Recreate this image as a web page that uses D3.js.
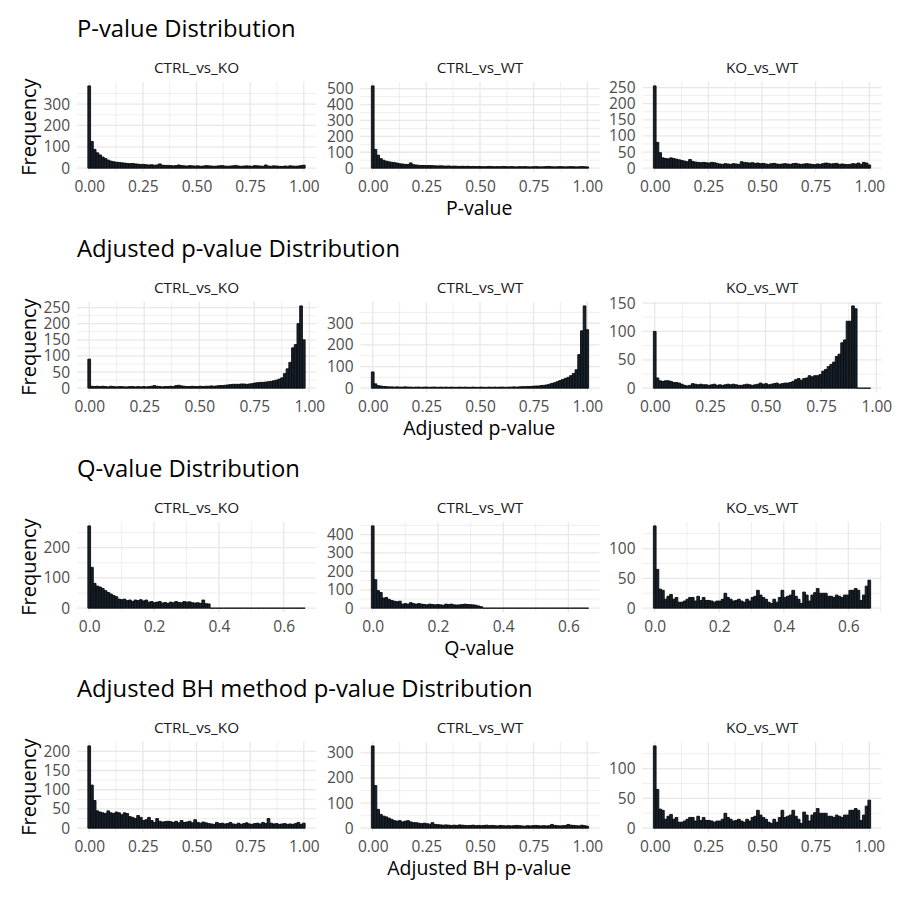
<!DOCTYPE html>
<html>
<head>
<meta charset="utf-8">
<style>
body { margin: 0; background: #fff; }
text { font-family: "Open Sans", sans-serif; }
</style>
</head>
<body>
<script src="https://d3js.org/d3.v7.min.js"></script>
<script>

var width = 900,
    height = 900;

var facets = ["CTRL_vs_KO", "CTRL_vs_WT", "KO_vs_WT"];
var rowTitles = ["P-value Distribution", "Adjusted p-value Distribution",
                 "Q-value Distribution", "Adjusted BH method p-value Distribution"];
var axisTitles = ["P-value", "Adjusted p-value", "Q-value", "Adjusted BH p-value"];

// histogram counts (80 bins each, first bin centred on 0, last on the max value)
var pvalCtrlKo = [385,125,88,72,62,52,45,38,33,30, 28,27,25,24,22,21,22,20,19,17,
  18,16,15,16,14,15,20,14,13,13, 12,11,12,15,12,11,10,12,11,10, 11,9,10,12,11,10,9,10,11,12,
  10,9,10,11,13,10,9,10,11,10, 9,12,11,10,9,15,10,9,11,10, 9,8,10,9,11,10,9,10,12,14];
var pvalCtrlWt = [517,118,82,60,50,44,40,37,35,32, 28,26,24,23,33,22,20,18,17,17,
  16,17,16,15,14,15,14,13,14,12, 13,12,11,12,11,12,10,11,10,11, 10,9,10,11,10,9,10,9,11,10,
  9,10,9,8,10,9,10,9,8,9, 10,9,8,9,10,11,9,8,9,10, 9,8,9,10,9,8,9,10,9,8];
var pvalKoWt = [255,80,48,32,30,29,32,30,28,26, 24,22,20,27,21,19,18,17,18,17,
  16,18,17,15,13,12,14,13,12,14, 13,12,20,18,17,16,17,15,16,14, 15,13,12,14,15,13,12,13,14,13,
  12,14,15,13,12,13,14,13,12,11, 13,12,14,16,15,13,14,15,12,13, 12,11,12,14,13,16,12,18,16,10];

var adjCtrlKo = [90,6,5,6,5,6,5,4,6,5, 4,5,5,4,4,5,5,4,5,4, 5,4,5,6,8,6,5,4,5,5,
  6,5,8,9,7,6,5,5,6,5, 5,6,5,6,6,7,6,7,8,8, 9,10,11,12,12,12,13,13,12,13,
  14,16,17,18,18,19,20,21,23,25, 28,32,45,60,80,125,135,200,255,150];
var adjCtrlWt = [75,20,12,10,8,7,6,6,5,6, 5,5,6,5,5,4,5,5,4,5, 5,4,5,5,4,5,4,5,4,5,
  4,4,5,4,5,4,4,5,4,4, 5,4,4,5,4,5,4,5,5,4, 5,5,6,5,6,7,7,8,8,9,
  10,10,12,13,15,18,22,25,30,35, 40,45,50,58,68,85,155,265,380,270];
var adjKoWt = [100,18,13,12,13,13,12,10,10,9, 7,5,4,5,8,7,6,7,6,6, 5,6,7,5,6,5,6,7,6,7,
  6,5,5,6,7,6,5,6,7,9, 7,8,6,7,8,9,7,8,9,9, 10,12,15,17,14,17,18,22,20,22,
  22,24,30,33,38,42,46,56,60,80, 85,118,118,145,140,0,0,0,0,0];

var qvalCtrlKo = [272,135,82,73,70,65,58,52,47,42, 38,30,28,30,25,27,22,27,25,28,
  24,27,20,22,18,20,22,17,19,16, 20,18,22,19,18,22,20,21,18,17, 18,16,27,15,14,0,0,0,0,0,
  0,0,0,0,0,0,0,0,0,0, 0,0,0,0,0,0,0,0,0,0, 0,0,0,0,0,0,0,0,0,0];
var qvalCtrlWt = [447,155,95,85,55,58,48,42,38,35, 38,22,25,22,30,25,22,25,22,20,
  18,22,20,18,20,18,16,22,20,22, 18,17,18,20,22,20,19,18,16,12, 8,0,0,0,0,0,0,0,0,0,
  0,0,0,0,0,0,0,0,0,0, 0,0,0,0,0,0,0,0,0,0, 0,0,0,0,0,0,0,0,0,0];
var qvalKoWt = [138,65,32,30,15,20,23,15,18,10, 10,12,15,18,18,12,20,13,18,13,
  13,12,10,12,12,15,25,18,15,12, 13,15,12,10,15,12,18,20,30,22, 18,15,10,8,15,10,18,30,18,20,
  22,30,20,15,8,27,22,12,22,26, 33,25,25,25,20,20,18,22,20,18, 22,22,30,30,33,30,13,22,37,47];

var bhCtrlKo = [214,112,72,45,42,40,38,45,40,38, 42,40,35,40,38,30,28,25,33,28,
  20,22,28,20,15,25,18,16,17,18, 17,15,18,14,20,15,16,18,14,22, 15,13,16,14,12,11,10,15,12,13,
  11,12,15,11,10,13,10,12,14,11, 10,12,13,11,15,12,25,13,11,12, 10,11,12,10,11,10,12,15,10,13];
var bhCtrlWt = [328,170,75,55,48,45,40,35,30,28, 30,25,28,30,25,22,22,20,18,20,
  18,16,22,15,14,13,12,13,12,11, 12,11,13,12,11,10,11,12,10,11, 10,11,12,10,11,10,9,11,10,9,
  10,9,10,11,10,9,8,10,9,10, 11,10,9,10,9,10,15,11,10,9, 10,11,15,12,11,10,9,12,10,8];
var bhKoWt = [138,65,32,30,15,20,23,15,18,10, 10,12,15,18,18,12,20,13,18,13,
  13,12,10,12,12,15,25,18,15,12, 13,15,12,10,15,12,18,20,30,22, 18,15,10,8,15,10,18,30,18,20,
  22,30,20,15,8,27,22,12,22,26, 33,25,25,25,20,20,18,22,20,18, 22,22,30,30,33,30,13,22,37,47];

// largest value in each facet (centre of last bin)
var pvalMax = [1, 1, 1];
var adjMax = [0.975, 1, 0.968];
var qvalMax = [0.662, 0.658, 0.665];
var bhMax = [1, 1, 1];

var xTicksUnit = [0, 0.25, 0.5, 0.75, 1];
var xTicksQ = [0, 0.2, 0.4, 0.6];

var yTicksPval = [[0,100,200,300], [0,100,200,300,400,500], [0,50,100,150,200,250]];
var yTicksAdj = [[0,50,100,150,200,250], [0,100,200,300], [0,50,100,150]];
var yTicksQval = [[0,100,200], [0,100,200,300,400], [0,50,100]];
var yTicksBh = [[0,50,100,150,200], [0,100,200,300], [0,50,100]];

var rows = [
  {counts: [pvalCtrlKo, pvalCtrlWt, pvalKoWt], max: pvalMax, xTicks: xTicksUnit, fmt: ".2f", yTicks: yTicksPval},
  {counts: [adjCtrlKo, adjCtrlWt, adjKoWt], max: adjMax, xTicks: xTicksUnit, fmt: ".2f", yTicks: yTicksAdj},
  {counts: [qvalCtrlKo, qvalCtrlWt, qvalKoWt], max: qvalMax, xTicks: xTicksQ, fmt: ".1f", yTicks: yTicksQval},
  {counts: [bhCtrlKo, bhCtrlWt, bhKoWt], max: bhMax, xTicks: xTicksUnit, fmt: ".2f", yTicks: yTicksBh}
];

var panelLeft = [77, 360.5, 642.5],
    panelW = 239,
    panelTop = 81.8,
    panelH = 90.5,
    rowH = 220,
    gridCol = "#e8e8e8",
    tickFont = "15.5px";

var svg = d3.select("body").append("svg")
    .attr("width", width)
    .attr("height", height);

function minorOf(ticks, dom) {
  var step = ticks[1] - ticks[0];
  var ext = [ticks[0] - step].concat(ticks, [ticks[ticks.length - 1] + step]);
  var out = [];
  for (var i = 0; i < ext.length - 1; i++) {
    var m = (ext[i] + ext[i + 1]) / 2;
    if (m >= dom[0] && m <= dom[1]) out.push(m);
  }
  return out;
}

rows.forEach(function(row, r) {
  var g = svg.append("g").attr("transform", "translate(0," + (r * rowH) + ")");

  g.append("text")
    .attr("x", 77).attr("y", 36.5)
    .style("font-size", "23.8px").style("fill", "#000")
    .text(rowTitles[r]);

  g.append("text")
    .attr("transform", "translate(36," + (panelTop + panelH / 2) + ") rotate(-90)")
    .attr("text-anchor", "middle")
    .style("font-size", "20px").style("fill", "#000")
    .text("Frequency");

  g.append("text")
    .attr("x", (panelLeft[0] + panelLeft[2] + panelW) / 2).attr("y", 215)
    .attr("text-anchor", "middle")
    .style("font-size", "19.5px").style("fill", "#000")
    .text(axisTitles[r]);

  row.counts.forEach(function(counts, i) {
    var n = counts.length,
        mx = row.max[i],
        w = mx / (n - 1),
        lo = -w / 2, hi = mx + w / 2,
        pad = 0.05 * (hi - lo);

    var x = d3.scaleLinear().domain([lo - pad, hi + pad]).range([0, panelW]);
    var cmax = d3.max(counts);
    var y = d3.scaleLinear().domain([-0.05 * cmax, 1.05 * cmax]).range([panelH, 0]);

    var p = g.append("g").attr("transform", "translate(" + panelLeft[i] + "," + panelTop + ")");

    // grid
    p.selectAll("line.xminor").data(minorOf(row.xTicks, x.domain())).join("line")
      .attr("x1", d => x(d)).attr("x2", d => x(d)).attr("y1", 0).attr("y2", panelH)
      .attr("stroke", gridCol).attr("stroke-width", 0.7);
    p.selectAll("line.yminor").data(minorOf(row.yTicks[i], y.domain())).join("line")
      .attr("y1", d => y(d)).attr("y2", d => y(d)).attr("x1", 0).attr("x2", panelW)
      .attr("stroke", gridCol).attr("stroke-width", 0.7);
    p.selectAll("line.xmajor").data(row.xTicks).join("line")
      .attr("x1", d => x(d)).attr("x2", d => x(d)).attr("y1", 0).attr("y2", panelH)
      .attr("stroke", gridCol).attr("stroke-width", 1.3);
    p.selectAll("line.ymajor").data(row.yTicks[i]).join("line")
      .attr("y1", d => y(d)).attr("y2", d => y(d)).attr("x1", 0).attr("x2", panelW)
      .attr("stroke", gridCol).attr("stroke-width", 1.3);

    // bars
    p.append("g").selectAll("path").data(counts).join("path")
      .attr("d", function(c, k) {
        var x0 = x(k * w - w / 2), x1 = x(k * w + w / 2);
        return "M" + x0 + "," + y(0) + "V" + y(c) + "H" + x1 + "V" + y(0) + "Z";
      })
      .attr("fill", "#17222f")
      .attr("stroke", "#0a0a0a")
      .attr("stroke-width", 0.9);

    // axes
    var xa = d3.axisBottom(x).tickValues(row.xTicks)
      .tickFormat(d3.format(row.fmt)).tickSize(0).tickPadding(9);
    p.append("g").attr("transform", "translate(0," + panelH + ")").call(xa)
      .call(a => a.select(".domain").remove())
      .selectAll("text").style("font-size", tickFont).style("fill", "#4d4d4d")
      .style("font-family", "'Open Sans', sans-serif");

    var ya = d3.axisLeft(y).tickValues(row.yTicks[i]).tickSize(0).tickPadding(7);
    p.append("g").call(ya)
      .call(a => a.select(".domain").remove())
      .selectAll("text").style("font-size", tickFont).style("fill", "#4d4d4d")
      .style("font-family", "'Open Sans', sans-serif");

    // strip label
    p.append("text")
      .attr("x", panelW / 2).attr("y", 72.5 - panelTop)
      .attr("text-anchor", "middle")
      .style("font-size", "15.3px").style("fill", "#1a1a1a")
      .text(facets[i]);
  });
});

</script>
</body>
</html>
